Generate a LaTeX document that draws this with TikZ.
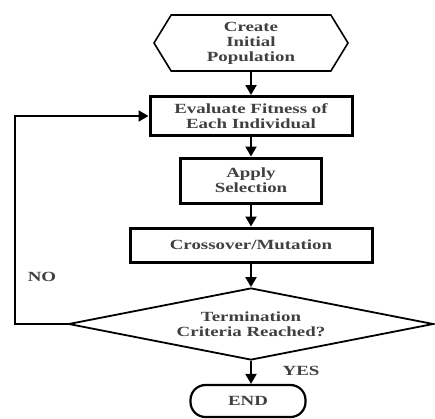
\documentclass[tikz,border=0pt]{standalone}
\usepackage{fontspec}
\setmainfont[FakeStretch=1.35]{Liberation Serif}
\usetikzlibrary{arrows.meta,shapes.geometric,shapes.symbols}

\begin{document}
\begin{tikzpicture}[x=1pt,y=-1pt,
      every node/.style={font=\fontsize{14}{15}\selectfont\bfseries,
        text=black!75, align=center, inner sep=0pt},
      start/.style={signal, signal to=west and east, signal pointer angle=117,
        draw, line width=1.6pt, minimum width=194, minimum height=56},
      process/.style={rectangle, draw, line width=3pt},
      decision/.style={diamond, aspect=5, draw, line width=1.8pt,
        minimum width=365, minimum height=72},
      terminal/.style={rectangle, rounded corners=15, draw, line width=2.2pt,
        minimum width=115, minimum height=32},
      flow/.style={-{Triangle[width=11pt,length=10pt]}, line width=2pt},
      label/.style={font=\fontsize{14}{15}\selectfont\bfseries}]
      \useasboundingbox (0,0) rectangle (435,418);
      \fill[white] (0,0) rectangle (435,418);

      \node[start] (init) at (251,43) {Create\\Initial\\Population};
      \node[process, minimum width=202, minimum height=39] (eval)
        at (251,116) {Evaluate Fitness of\\Each Individual};
      \node[process, minimum width=141, minimum height=45] (select)
        at (251,180.5) {Apply\\Selection};
      \node[process, minimum width=242, minimum height=34] (vary)
        at (251,245) {Crossover/Mutation};
      \node[decision] (stop) at (251,324) {Termination\\Criteria Reached?};
      \node[terminal] (finish) at (248,401) {END};
      \node[label] (no) at (42,277) {NO};
      \node[label] (yes) at (301,371) {YES};
      \coordinate (back) at (15,116);

      \draw[flow] (init) -- (eval);
      \draw[flow] (eval) -- (select);
      \draw[flow] (select) -- (vary);
      \draw[flow] (vary) -- (stop);
      \draw[flow] (stop.south) -- (stop.south |- finish.north);
      \draw[flow] (stop.west) -| (back) -- (eval.west);
    \end{tikzpicture}
\end{document}
